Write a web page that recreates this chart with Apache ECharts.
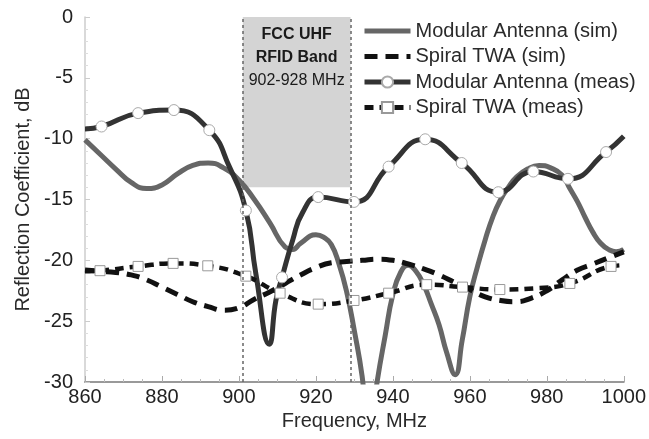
<!DOCTYPE html>
<html>
<head>
<meta charset="utf-8">
<script src="https://cdn.jsdelivr.net/npm/echarts@6/dist/echarts.min.js"></script>
<style>html,body{margin:0;padding:0;background:#fff}#c{width:649px;height:439px}</style>
</head>
<body>
<div id="c"></div>
<script>
// ---- data ----
const seriesNames = ['Modular Antenna (sim)', 'Spiral TWA (sim)', 'Modular Antenna (meas)', 'Spiral TWA (meas)'];

const modSimFreq = [860,864,868,872,876,880,884,888,892,896,900,904,908,912,914,916,920,922,924,926,928,930,932,933.8,936,938,940,942,944,946,948,950,952,954,956.2,958,960,962,964,966,968,970,972,975,978,981,984,986,988,990,992,994,996,998,1000];
const modSimDb = [-10.1,-11.3,-12.5,-13.6,-14.1,-13.8,-12.9,-12.2,-12.0,-12.4,-13.4,-15.0,-16.9,-18.9,-19.1,-18.6,-17.9,-18.1,-18.7,-20.3,-22.6,-25.8,-29.5,-34.5,-29.8,-26.2,-22.8,-21.0,-20.4,-20.9,-22.0,-23.6,-25.3,-27.6,-29.4,-26.6,-23.0,-20.5,-18.3,-16.4,-15.0,-14.0,-13.2,-12.5,-12.2,-12.4,-13.0,-14.1,-15.2,-16.5,-17.7,-18.6,-19.1,-19.3,-19.1];

const spiSimFreq = [860,864,868,872,876,880,884,888,892,896,900,904,908,912,916,920,924,928,932,936,940,944,948,952,956,960,964,968,972,976,980,984,988,992,996,1000];
const spiSimDb = [-20.8,-20.9,-21.0,-21.2,-21.6,-22.2,-22.8,-23.4,-23.8,-24.1,-23.9,-23.2,-22.6,-21.9,-21.2,-20.6,-20.2,-20.1,-20.0,-19.9,-20.0,-20.3,-20.7,-21.2,-21.8,-22.4,-23.0,-23.3,-23.4,-23.1,-22.5,-21.6,-20.8,-20.3,-19.8,-19.3];

// measured points shown with markers
const modMeasFreq = [864.3,873.8,883.1,892.3,901.8,911.2,920.6,929.9,938.9,948.4,957.9,967.4,976.5,985.5,995.4];
const modMeasDb = [-9.0,-7.9,-7.65,-9.3,-15.9,-21.4,-14.8,-15.2,-12.3,-10.05,-12.0,-14.4,-12.7,-13.3,-11.1];
// measured curve points between markers
const modMeasExtraFreq = [860,897.5,904.4,907.9,909.6,914,916.5,1000];
const modMeasExtraDb = [-9.2,-12.3,-21.1,-26.9,-23.3,-18.3,-16.1,-9.8];

const spiMeasFreq = [863.9,873.8,882.9,891.9,901.8,910.7,920.6,929.9,938.9,948.8,958.1,967.8,986,996.7];
const spiMeasDb = [-20.85,-20.5,-20.25,-20.45,-21.3,-22.7,-23.6,-23.3,-22.7,-22.0,-22.2,-22.4,-21.9,-20.5];
const spiMeasExtraFreq = [860,977,1000];
const spiMeasExtraDb = [-20.9,-22.3,-20.4];

const band = { from: 901, to: 929, top: 0, bottom: -14 };
const bandLines = ['FCC UHF', 'RFID Band', '902-928 MHz'];

const xAxisRange = { min: 860, max: 1000, interval: 20 };
const yAxisRange = { min: -30, max: 0, interval: 5 };
const xTitle = 'Frequency, MHz';
const yTitle = 'Reflection Coefficient, dB';

// ---- build ----
function pairs(f, d) { return f.map((x, i) => [x, d[i]]); }
function withMarkers(mf, md, ef, ed) {
  const pts = mf.map((x, i) => ({ value: [x, md[i]] }))
    .concat(ef.map((x, i) => ({ value: [x, ed[i]], symbol: 'none' })));
  pts.sort((a, b) => a.value[0] - b.value[0]);
  return pts;
}

const FONT = 'Liberation Sans, Arial, sans-serif';
const chart = echarts.init(document.getElementById('c'), null, { renderer: 'canvas' });
const noSym = { color: 'rgba(0,0,0,0)', borderColor: 'rgba(0,0,0,0)', borderWidth: 0 };

chart.setOption({
  animation: false,
  backgroundColor: '#fff',
  grid: { left: 85, right: 23, top: 17, bottom: 57 },
  legend: {
    data: [
      { name: seriesNames[0], itemStyle: noSym },
      { name: seriesNames[1], itemStyle: noSym },
      { name: seriesNames[2] },
      { name: seriesNames[3] }
    ],
    orient: 'vertical',
    left: 357, top: 16,
    itemWidth: 46, itemHeight: 14, itemGap: 5.5,
    lineStyle: { width: 5 },
    textStyle: { fontSize: 20, color: '#2a2a2a', fontFamily: FONT }
  },
  xAxis: {
    type: 'value', min: xAxisRange.min, max: xAxisRange.max, interval: xAxisRange.interval,
    name: xTitle, nameLocation: 'middle', nameGap: 29,
    nameTextStyle: { fontSize: 20, color: '#2a2a2a', fontFamily: FONT },
    axisLine: { show: true, onZero: false, lineStyle: { color: '#999', width: 2 } },
    axisTick: { show: true, inside: true, length: 6, lineStyle: { color: '#aaa' } },
    minorTick: { show: true, splitNumber: 4, length: 3, lineStyle: { color: '#bbb' } },
    splitLine: { show: false },
    axisLabel: { fontSize: 20, color: '#222', fontFamily: FONT, margin: 5, formatter: v => String(v) }
  },
  yAxis: {
    type: 'value', min: yAxisRange.min, max: yAxisRange.max, interval: yAxisRange.interval,
    name: yTitle, nameLocation: 'middle', nameGap: 52,
    nameTextStyle: { fontSize: 20, color: '#2a2a2a', fontFamily: FONT },
    axisLine: { show: true, onZero: false, lineStyle: { color: '#ccc', width: 1.5 } },
    axisTick: { show: true, inside: true, length: 5, lineStyle: { color: '#ccc' } },
    minorTick: { show: true, splitNumber: 5, length: 3, lineStyle: { color: '#ddd' } },
    splitLine: { show: false },
    axisLabel: { fontSize: 20, color: '#222', fontFamily: FONT, margin: 12 }
  },
  series: [
    {
      name: 'band', type: 'line', data: [], z: 1, silent: true,
      markArea: {
        silent: true,
        itemStyle: { color: '#d4d4d4' },
        label: {
          show: true, position: 'insideTop', distance: 6,
          formatter: '{b|' + bandLines[0] + '}\n{b|' + bandLines[1] + '}\n{n|' + bandLines[2] + '}',
          rich: {
            b: { fontSize: 16, fontWeight: 'bold', color: '#1a1a1a', fontFamily: FONT, lineHeight: 23 },
            n: { fontSize: 16, color: '#1a1a1a', fontFamily: FONT, lineHeight: 23 }
          }
        },
        data: [[{ xAxis: band.from, yAxis: band.top }, { xAxis: band.to, yAxis: band.bottom }]]
      },
      markLine: {
        silent: true, symbol: ['none', 'none'], label: { show: false },
        lineStyle: { color: '#666', width: 1.5, type: [3, 3] },
        data: [{ xAxis: band.from }, { xAxis: band.to }]
      }
    },
    {
      name: seriesNames[0], type: 'line', smooth: 0.5, symbol: 'none', z: 3,
      lineStyle: { color: '#666', width: 5 }, itemStyle: { color: '#666' },
      data: pairs(modSimFreq, modSimDb)
    },
    {
      name: seriesNames[1], type: 'line', smooth: 0.5, symbol: 'none', z: 3,
      lineStyle: { color: '#111', width: 5, type: [13, 8] }, itemStyle: { color: '#111' },
      data: pairs(spiSimFreq, spiSimDb)
    },
    {
      name: seriesNames[2], type: 'line', smooth: 0.5, symbol: 'circle', symbolSize: 11, showAllSymbol: true, z: 4,
      lineStyle: { color: '#333', width: 5 },
      itemStyle: { color: '#fff', borderColor: '#aaa', borderWidth: 1 },
      data: withMarkers(modMeasFreq, modMeasDb, modMeasExtraFreq, modMeasExtraDb)
    },
    {
      name: seriesNames[3], type: 'line', smooth: 0.5, symbol: 'rect', symbolSize: 10, showAllSymbol: true, z: 4,
      lineStyle: { color: '#111', width: 4.5, type: [9, 6] },
      itemStyle: { color: '#fff', borderColor: '#999', borderWidth: 1 },
      data: withMarkers(spiMeasFreq, spiMeasDb, spiMeasExtraFreq, spiMeasExtraDb)
    }
  ]
});
</script>
</body>
</html>
